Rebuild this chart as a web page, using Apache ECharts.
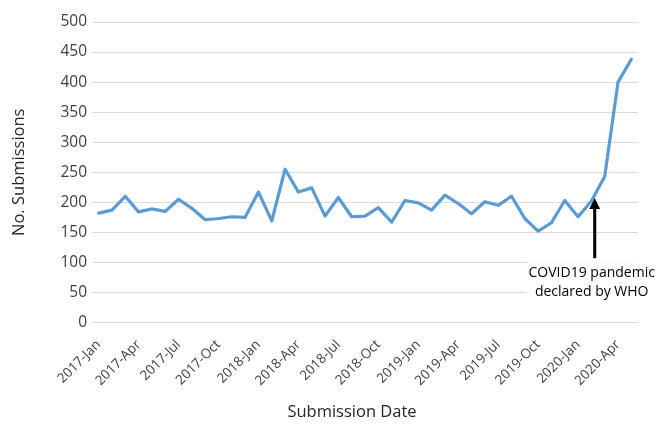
<!DOCTYPE html>
<html>
<head>
<meta charset="utf-8">
<script src="https://cdn.jsdelivr.net/npm/echarts@6/dist/echarts.min.js"></script>
<style>
  html, body { margin: 0; padding: 0; background: #fff; }
  #chart { width: 663px; height: 424px; }
</style>
</head>
<body>
<div id="chart"></div>
<script>
// Monthly submission counts, January 2017 to May 2020
const months = [
  '2017-Jan','2017-Feb','2017-Mar','2017-Apr','2017-May','2017-Jun','2017-Jul','2017-Aug','2017-Sep','2017-Oct','2017-Nov','2017-Dec',
  '2018-Jan','2018-Feb','2018-Mar','2018-Apr','2018-May','2018-Jun','2018-Jul','2018-Aug','2018-Sep','2018-Oct','2018-Nov','2018-Dec',
  '2019-Jan','2019-Feb','2019-Mar','2019-Apr','2019-May','2019-Jun','2019-Jul','2019-Aug','2019-Sep','2019-Oct','2019-Nov','2019-Dec',
  '2020-Jan','2020-Feb','2020-Mar','2020-Apr','2020-May'
];
const submissions = [
  182, 187, 210, 184, 189, 185, 205, 190, 171, 173, 176, 175,
  217, 169, 255, 217, 224, 177, 208, 176, 177, 191, 167, 203,
  199, 187, 212, 198, 181, 201, 195, 210, 173, 152, 166, 203,
  176, 202, 243, 400, 438
];
const yTicks = { min: 0, max: 500, step: 50 };

// Annotation: arrow pointing at the WHO pandemic declaration (11 March 2020)
const annotation = {
  label: 'COVID19 pandemic\ndeclared by WHO',
  fromMonth: '2020-Feb',
  toMonth: '2020-Mar',
  fraction: 0.25,
  tipValue: 207,
  tailValue: 107
};

const textColor = '#404040';
const font = '"Open Sans", "Liberation Sans", sans-serif';

const chart = echarts.init(document.getElementById('chart'), null, { renderer: 'canvas' });

chart.setOption({
  animation: false,
  backgroundColor: '#ffffff',
  grid: { left: 92, right: 25, top: 22, bottom: 101.5, containLabel: false, outerBoundsMode: 'none' },
  xAxis: {
    type: 'category',
    data: months,
    boundaryGap: true,
    name: 'Submission Date',
    nameLocation: 'middle',
    nameGap: 81,
    nameTextStyle: { color: '#262626', fontSize: 16.5, fontFamily: font, padding: [0, 26, 0, 0] },
    axisLine: { show: true, lineStyle: { color: '#d9d9d9', width: 1 } },
    axisTick: { show: false },
    axisLabel: {
      interval: 2,
      rotate: 45,
      color: textColor,
      fontSize: 13.5,
      fontFamily: font,
      margin: 20
    },
    splitLine: { show: false }
  },
  yAxis: {
    type: 'value',
    min: yTicks.min,
    max: yTicks.max,
    interval: yTicks.step,
    name: 'No. Submissions',
    nameLocation: 'middle',
    nameGap: 64,
    nameRotate: 90,
    nameTextStyle: { color: '#262626', fontSize: 16.5, fontFamily: font },
    axisLine: { show: false },
    axisTick: { show: false },
    axisLabel: { color: textColor, fontSize: 15.5, fontFamily: font, margin: 5 },
    splitLine: { show: true, lineStyle: { color: '#d9d9d9', width: 1 } }
  },
  series: [{
    type: 'line',
    data: submissions,
    symbol: 'none',
    lineStyle: { color: '#5b9bd5', width: 3.2, cap: 'round', join: 'round' },
    itemStyle: { color: '#5b9bd5' }
  }]
});

function drawAnnotation() {
  const a = chart.convertToPixel({ xAxisIndex: 0, yAxisIndex: 0 }, [annotation.fromMonth, annotation.tipValue]);
  const b = chart.convertToPixel({ xAxisIndex: 0, yAxisIndex: 0 }, [annotation.toMonth, annotation.tipValue]);
  const tail = chart.convertToPixel({ xAxisIndex: 0, yAxisIndex: 0 }, [annotation.fromMonth, annotation.tailValue]);
  const x = a[0] + (b[0] - a[0]) * annotation.fraction;
  const tipY = a[1];
  const tailY = tail[1];
  const headH = 11, headW = 5.5;
  chart.setOption({
    graphic: [
      {
        type: 'text',
        x: x - 3,
        y: tailY + 4,
        z: 100,
        style: {
          text: annotation.label,
          fill: '#000',
          font: '14px ' + font,
          align: 'center',
          verticalAlign: 'top',
          lineHeight: 19,
          backgroundColor: '#ffffff',
          padding: [1, 2, 2, 2]
        }
      },
      {
        type: 'line',
        z: 101,
        shape: { x1: x, y1: tailY, x2: x, y2: tipY + headH - 1 },
        style: { stroke: '#000', lineWidth: 3 }
      },
      {
        type: 'polygon',
        z: 101,
        shape: { points: [[x, tipY], [x - headW, tipY + headH], [x + headW, tipY + headH]] },
        style: { fill: '#000' }
      }
    ]
  });
}
drawAnnotation();
</script>
</body>
</html>
